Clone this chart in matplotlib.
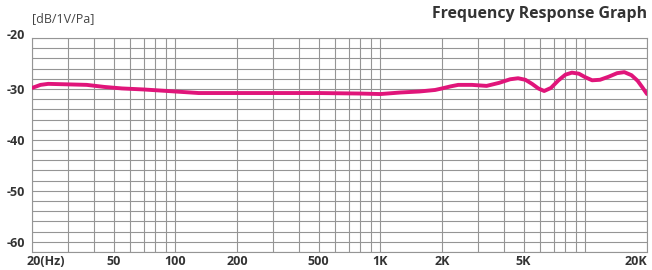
import numpy as np
import matplotlib.pyplot as plt
from matplotlib.ticker import FixedLocator, NullFormatter
from matplotlib.transforms import ScaledTranslation

# frequency response (Hz, dB re 1V/Pa)
freq = [20, 21, 22, 24, 30, 37, 45, 55, 70, 100, 130, 200, 300, 500, 800, 1000,
        1250, 1550, 1850, 2000, 2200, 2400, 2800, 3300, 3800, 4300, 4700, 5100,
        5500, 5900, 6300, 6800, 7400, 8000, 8600, 9300, 10000, 10800, 11800,
        13000, 14300, 15500, 16800, 18000, 19000, 20000]
level = [-29.8, -29.5, -29.2, -29.0, -29.1, -29.2, -29.6, -29.9, -30.1, -30.5,
         -30.8, -30.8, -30.8, -30.8, -30.9, -31.0, -30.7, -30.5, -30.2, -29.9,
         -29.5, -29.2, -29.2, -29.4, -28.8, -28.1, -27.9, -28.2, -29.0, -29.9,
         -30.4, -29.8, -28.3, -27.2, -26.8, -27.0, -27.7, -28.3, -28.2, -27.6,
         -26.9, -26.7, -27.3, -28.4, -29.7, -31.0]

xtick_vals = [20, 50, 100, 200, 500, 1000, 2000, 5000, 20000]
xtick_labels = ['20(Hz)', '50', '100', '200', '500', '1K', '2K', '5K', '20K']
xgrid_vals = [30, 40, 60, 70, 80, 90, 300, 400, 600, 700, 800, 900,
              3000, 4000, 6000, 7000, 8000, 9000, 10000]
ytick_vals = [-20, -30, -40, -50, -60]

plt.rcParams['font.family'] = ['Open Sans', 'DejaVu Sans']
plt.rcParams['axes.unicode_minus'] = False

fig = plt.figure(figsize=(6.52, 2.70), dpi=100)
ax = fig.add_axes([32 / 652, 18 / 270, 615 / 652, 214 / 270])

ax.plot(freq, level, color='#E0157A', lw=2.8, solid_capstyle='round',
        solid_joinstyle='round', zorder=3)

ax.set_xscale('log')
ax.set_xlim(20, 20000)
ax.set_ylim(-62, -20)

ax.xaxis.set_major_locator(FixedLocator(xtick_vals))
ax.xaxis.set_minor_locator(FixedLocator(xgrid_vals))
ax.xaxis.set_minor_formatter(NullFormatter())
ax.set_xticklabels(xtick_labels)
ax.yaxis.set_major_locator(FixedLocator(ytick_vals))
ax.yaxis.set_minor_locator(FixedLocator(np.arange(-62, -19, 2)))

ax.grid(True, which='both', color='#959595', lw=0.8)
ax.tick_params(which='both', length=0, colors='#333333', labelsize=9)
ax.tick_params(axis='x', pad=2)
ax.tick_params(axis='y', pad=5)
for lab in ax.get_xticklabels() + ax.get_yticklabels():
    lab.set_fontweight('bold')

# first/last frequency labels sit inside the plot width
xl = ax.get_xticklabels()
xl[0].set_horizontalalignment('left')
xl[0].set_transform(xl[0].get_transform() + ScaledTranslation(-5 / 100, 0, fig.dpi_scale_trans))
xl[-1].set_horizontalalignment('right')
yl = ax.get_yticklabels()
yl[0].set_transform(yl[0].get_transform() + ScaledTranslation(0, 4 / 100, fig.dpi_scale_trans))

for s in ax.spines.values():
    s.set_color('#959595')
    s.set_linewidth(0.8)

fig.text(32 / 652, 1 - 19 / 270, '[dB/1V/Pa]', fontsize=9, color='#444444',
         va='center', ha='left')
fig.text(647 / 652, 1 - 14 / 270, 'Frequency Response Graph', fontsize=11.4,
         fontweight='bold', color='#333333', va='center', ha='right')

fig.savefig('out.png', dpi=100)
